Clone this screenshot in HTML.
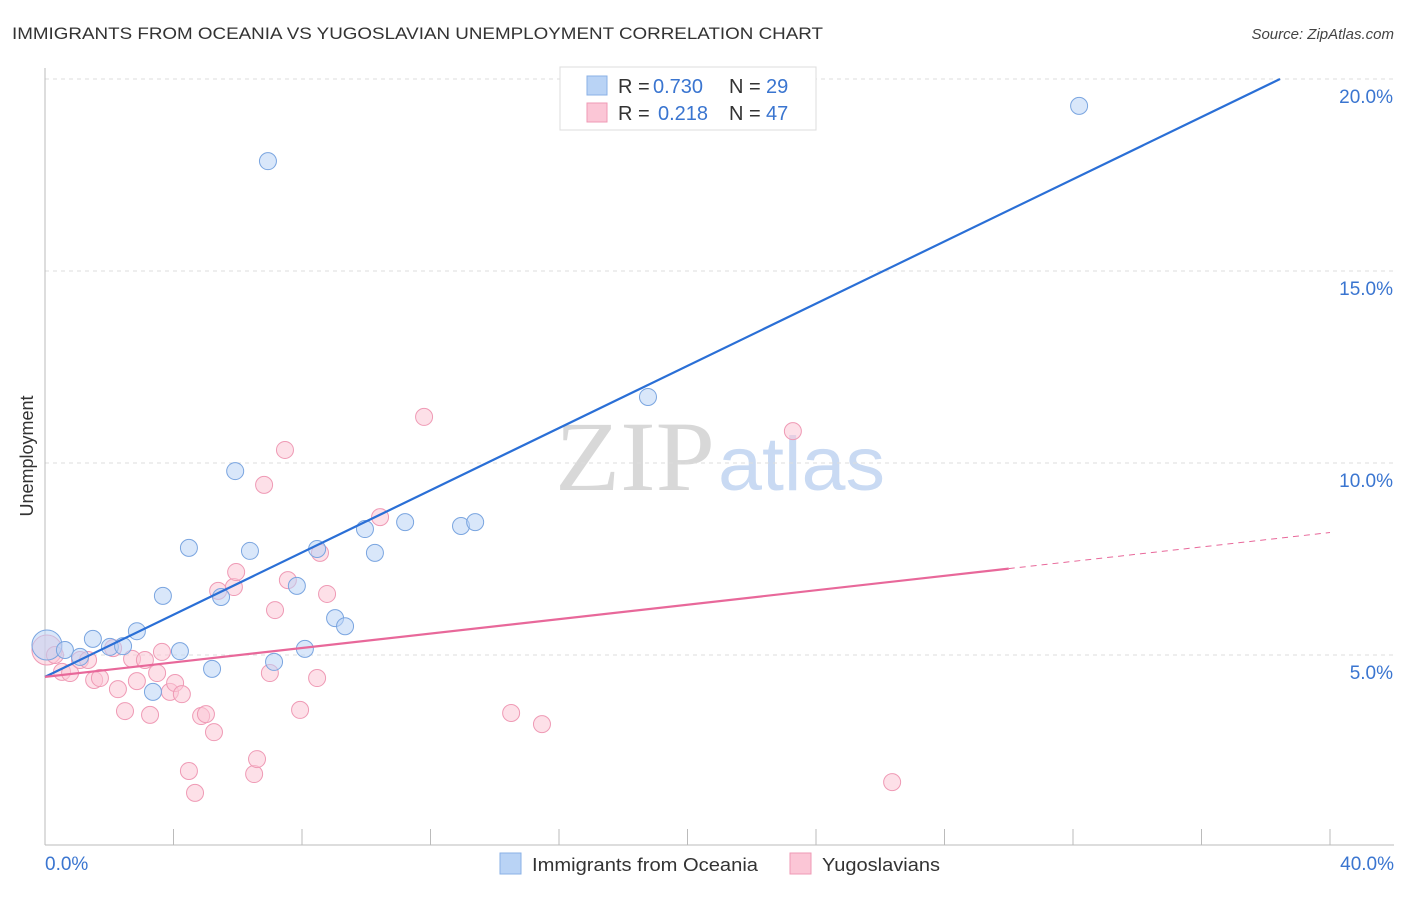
<!DOCTYPE html>
<html><head><meta charset="utf-8"><style>
body{margin:0;background:#fff;font-family:"Liberation Sans",sans-serif}
</style></head><body>
<svg id="chart" width="1406" height="892" xmlns="http://www.w3.org/2000/svg" font-family="Liberation Sans, sans-serif">
<text x="12" y="39" font-size="17" fill="#333" textLength="811" lengthAdjust="spacingAndGlyphs">IMMIGRANTS FROM OCEANIA VS YUGOSLAVIAN UNEMPLOYMENT CORRELATION CHART</text>
<text x="1394" y="39" font-size="15" fill="#444" text-anchor="end" font-style="italic">Source: ZipAtlas.com</text>
<text x="555" y="490" font-size="100" font-family="Liberation Serif, serif" fill="#d8d8d8" textLength="160" lengthAdjust="spacingAndGlyphs">ZIP</text>
<text x="718" y="490" font-size="76" fill="#c9daf3" textLength="167" lengthAdjust="spacingAndGlyphs">atlas</text>
<g id="grid"></g>
<g id="axes"></g>
<g id="marks"></g>
<text transform="translate(33,456) rotate(-90)" font-size="18" fill="#333" text-anchor="middle">Unemployment</text>
<g>
<rect x="560" y="67" width="256" height="63" fill="#fff" stroke="#ddd"/>
<rect x="587" y="76" width="20" height="19" fill="#b9d3f5" stroke="#8ab0e6"/>
<rect x="587" y="103" width="20" height="19" fill="#fbc6d6" stroke="#ef9ab5"/>
<text x="618" y="93" font-size="20" fill="#333">R =</text>
<text x="653" y="93" font-size="20" fill="#3a75d0">0.730</text>
<text x="729" y="93" font-size="20" fill="#333">N =</text>
<text x="766" y="93" font-size="20" fill="#3a75d0">29</text>
<text x="618" y="120" font-size="20" fill="#333">R =</text>
<text x="658" y="120" font-size="20" fill="#3a75d0">0.218</text>
<text x="729" y="120" font-size="20" fill="#333">N =</text>
<text x="766" y="120" font-size="20" fill="#3a75d0">47</text>
</g>
<g>
<rect x="500" y="853" width="21" height="21" fill="#b9d3f5" stroke="#8ab0e6"/>
<text x="532" y="871" font-size="18" fill="#333" textLength="226" lengthAdjust="spacingAndGlyphs">Immigrants from Oceania</text>
<rect x="790" y="853" width="21" height="21" fill="#fbc6d6" stroke="#ef9ab5"/>
<text x="822" y="871" font-size="18" fill="#333" textLength="118" lengthAdjust="spacingAndGlyphs">Yugoslavians</text>
</g>
</svg>
<script>
const blueX=[0.06,0.62,1.09,1.49,2.02,2.43,2.86,3.36,3.67,4.20,4.48,5.20,5.48,5.92,6.38,6.94,7.13,7.84,8.09,8.47,9.03,9.34,9.96,10.27,11.21,12.95,13.39,18.77,32.19];
const blueY=[5.26,5.13,4.95,5.42,5.21,5.23,5.62,4.04,6.54,5.10,7.79,4.64,6.51,9.79,7.71,17.86,4.82,6.80,5.16,7.76,5.96,5.75,8.28,7.66,8.46,8.36,8.46,11.72,19.30];
const pinkX=[0.06,0.31,0.53,0.78,1.09,1.34,1.53,1.71,2.12,2.27,2.49,2.71,2.86,3.11,3.27,3.49,3.64,3.89,4.05,4.26,4.48,4.67,4.86,5.01,5.26,5.39,5.88,5.95,6.51,6.60,6.82,7.00,7.16,7.47,7.56,7.94,8.47,8.56,8.78,10.43,11.80,14.51,15.47,23.28,26.37];
const pinkY=[5.13,5.00,4.56,4.53,4.87,4.87,4.35,4.40,5.18,4.11,3.54,4.90,4.32,4.87,3.44,4.53,5.08,4.04,4.27,3.98,1.98,1.41,3.41,3.46,2.99,6.67,6.77,7.16,1.90,2.29,9.43,4.53,6.17,10.34,6.95,3.57,4.40,7.66,6.59,8.59,11.20,3.49,3.20,10.83,1.69];
const blueLine=[4.43,0.405];
const pinkLine=[4.43,0.094];
const yTicks=[5,10,15,20];
const yTickLabels=["5.0%","10.0%","15.0%","20.0%"];
const xTicks=[0,4,8,12,16,20,24,28,32,36,40];
const xEdgeLabels=["0.0%","40.0%"];

const X=v=>45+v*32.125, Y=v=>847-v*38.4;
const NS="http://www.w3.org/2000/svg";
function mk(tag,attrs,parent){const e=document.createElementNS(NS,tag);for(const k in attrs)e.setAttribute(k,attrs[k]);document.getElementById(parent).appendChild(e);return e;}
yTicks.forEach((t,i)=>{
 const g=mk('line',{x1:45,x2:1394,y1:Y(t),y2:Y(t),stroke:'#ddd','stroke-dasharray':'4,4'},'grid');
 
 
 const l=mk('text',{x:1393,y:Y(t)+24,'font-size':19,fill:'#3a75d0','text-anchor':'end'},'axes');
 l.textContent=yTickLabels[i];
 
 
});
const ya=mk('line',{x1:45,x2:45,y1:68,y2:845,stroke:'#bbb'},'axes');


const xa=mk('line',{x1:45,x2:1394,y1:845,y2:845,stroke:'#bbb'},'axes');


xTicks.forEach(t=>{
 const k=mk('line',{x1:X(t),x2:X(t),y1:829,y2:845,stroke:'#bbb'},'axes');
 
 
});
[[0,'start',45],[40,'end',1394]].forEach((d,i)=>{
 const l=mk('text',{x:d[2],y:870,'font-size':19,fill:'#3a75d0','text-anchor':d[1]},'axes');
 l.textContent=xEdgeLabels[i];
 
 
});
function pts(xs,ys,fill,stroke,name){
 xs.forEach((x,i)=>{
  const r=(i===0)?15:8.5;
  const c=mk('circle',{cx:X(x),cy:Y(ys[i]),r:r,fill:fill,'fill-opacity':0.55,stroke:stroke,'stroke-width':1},'marks');
  
  
 });
}
pts(pinkX,pinkY,'#fbc6d6','#ef9ab5','yugoslavian-point');
pts(blueX,blueY,'#b9d3f5','#7aa5e0','oceania-point');
const bEnd=(20-blueLine[0])/blueLine[1];
const bl=mk('line',{x1:X(0),y1:Y(blueLine[0]),x2:X(bEnd),y2:Y(20),stroke:'#2a6fd6','stroke-width':2.2},'marks');


const pl=mk('line',{x1:X(0),y1:Y(pinkLine[0]),x2:X(30),y2:Y(pinkLine[0]+pinkLine[1]*30),stroke:'#e8689a','stroke-width':2.2},'marks');


const pd=mk('line',{x1:X(30),y1:Y(pinkLine[0]+pinkLine[1]*30),x2:X(40),y2:Y(pinkLine[0]+pinkLine[1]*40),stroke:'#e8689a','stroke-width':1,'stroke-dasharray':'6,5'},'marks');


</script>
</body></html>
